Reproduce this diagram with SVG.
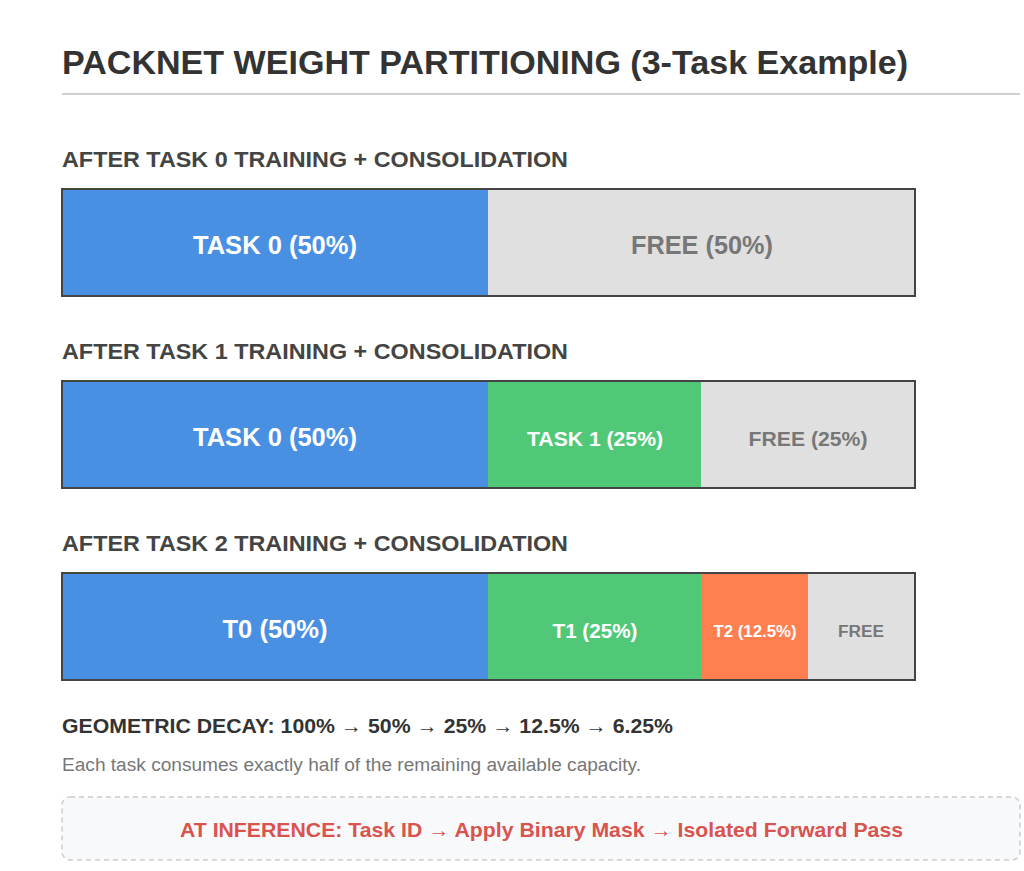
<svg xmlns="http://www.w3.org/2000/svg" width="1024" height="871" viewBox="0 0 1024 871">
<style>
text{font-family:"Liberation Sans",Arial,sans-serif;font-weight:bold}
.title{font-size:34px;fill:#333}
.h{font-size:22px;fill:#444}
.w{fill:#fff;text-anchor:middle}
.g{fill:#777;text-anchor:middle}
.frame{fill:none;stroke:#444;stroke-width:2}
</style>
<rect width="1024" height="871" fill="#fff"/>
<text class="title" x="62" y="74" textLength="846" lengthAdjust="spacingAndGlyphs">PACKNET WEIGHT PARTITIONING (3-Task Example)</text>
<line x1="62" y1="94" x2="1020" y2="94" stroke="#d0d0d0" stroke-width="2"/>

<g id="stage0">
<text class="h" x="62" y="167" textLength="506" lengthAdjust="spacingAndGlyphs">AFTER TASK 0 TRAINING + CONSOLIDATION</text>
<rect x="62" y="189" width="426" height="107" fill="#4a90e2"/>
<rect x="488" y="189" width="427" height="107" fill="#e0e0e0"/>
<rect class="frame" x="62" y="189" width="853" height="107"/>
<text class="w" x="275" y="254" font-size="25" textLength="164" lengthAdjust="spacingAndGlyphs">TASK 0 (50%)</text>
<text class="g" x="702" y="254" font-size="25" textLength="142" lengthAdjust="spacingAndGlyphs">FREE (50%)</text>
</g>

<g id="stage1">
<text class="h" x="62" y="359" textLength="506" lengthAdjust="spacingAndGlyphs">AFTER TASK 1 TRAINING + CONSOLIDATION</text>
<rect x="62" y="381" width="426" height="107" fill="#4a90e2"/>
<rect x="488" y="381" width="213" height="107" fill="#50c878"/>
<rect x="701" y="381" width="214" height="107" fill="#e0e0e0"/>
<rect class="frame" x="62" y="381" width="853" height="107"/>
<text class="w" x="275" y="446" font-size="25" textLength="164" lengthAdjust="spacingAndGlyphs">TASK 0 (50%)</text>
<text class="w" x="595" y="446" font-size="20" textLength="136" lengthAdjust="spacingAndGlyphs">TASK 1 (25%)</text>
<text class="g" x="808" y="446" font-size="20" textLength="119" lengthAdjust="spacingAndGlyphs">FREE (25%)</text>
</g>

<g id="stage2">
<text class="h" x="62" y="551" textLength="506" lengthAdjust="spacingAndGlyphs">AFTER TASK 2 TRAINING + CONSOLIDATION</text>
<rect x="62" y="573" width="426" height="107" fill="#4a90e2"/>
<rect x="488" y="573" width="213" height="107" fill="#50c878"/>
<rect x="701" y="573" width="107" height="107" fill="#ff7f50"/>
<rect x="808" y="573" width="107" height="107" fill="#e0e0e0"/>
<rect class="frame" x="62" y="573" width="853" height="107"/>
<text class="w" x="275" y="638" font-size="25" textLength="105" lengthAdjust="spacingAndGlyphs">T0 (50%)</text>
<text class="w" x="595" y="638" font-size="20" textLength="85" lengthAdjust="spacingAndGlyphs">T1 (25%)</text>
<text class="w" x="755" y="637" font-size="16" textLength="83" lengthAdjust="spacingAndGlyphs">T2 (12.5%)</text>
<text class="g" x="861" y="637" font-size="16" textLength="46" lengthAdjust="spacingAndGlyphs">FREE</text>
</g>

<g id="notes">
<text x="62" y="733" font-size="20.5" fill="#333" textLength="611" lengthAdjust="spacingAndGlyphs">GEOMETRIC DECAY: 100% → 50% → 25% → 12.5% → 6.25%</text>
<text x="62" y="771" font-size="18" fill="#777" style="font-weight:normal" textLength="579" lengthAdjust="spacingAndGlyphs">Each task consumes exactly half of the remaining available capacity.</text>
</g>

<g id="inference">
<rect x="62" y="797" width="958" height="63" rx="8" fill="#f8f9fa" stroke="#ccc" stroke-width="1.5" stroke-dasharray="5,4"/>
<text x="541.5" y="837" font-size="20.5" fill="#d9534f" text-anchor="middle" textLength="723" lengthAdjust="spacingAndGlyphs">AT INFERENCE: Task ID → Apply Binary Mask → Isolated Forward Pass</text>
</g>
</svg>
